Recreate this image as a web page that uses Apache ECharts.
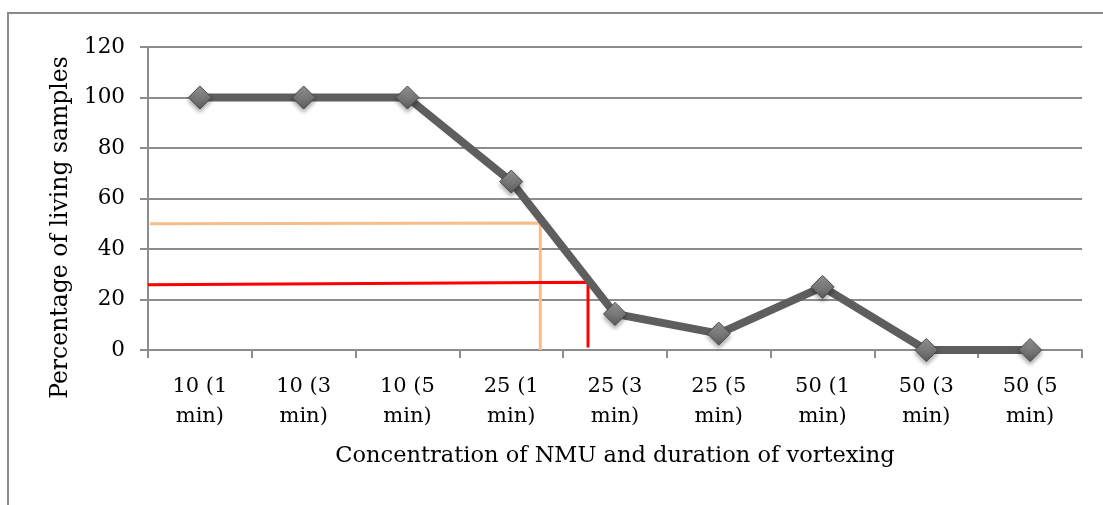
<!DOCTYPE html>
<html><head><meta charset="utf-8">
<script src="https://cdn.jsdelivr.net/npm/echarts@6/dist/echarts.min.js"></script>
<style>html,body{margin:0;padding:0;background:#fff}#c{width:1103px;height:505px}
#frame{position:absolute;left:7px;top:12px;width:1100px;height:500px;border-left:2px solid #8a8a8a;border-top:2px solid #8a8a8a;pointer-events:none}</style>
</head><body><div id="c"></div><div id="frame"></div>
<script>
const categories = ['10 (1 min)','10 (3 min)','10 (5 min)','25 (1 min)','25 (3 min)','25 (5 min)','50 (1 min)','50 (3 min)','50 (5 min)'];
const livingPct = [100, 100, 100, 66.7, 14.3, 6.5, 25, 0, 0];
const yTicks = [0, 20, 40, 60, 80, 100, 120];
// annotation guide lines (x in category-index units, y in %)
const orangeGuide = [[-0.48, 50], [3.28, 50.3], [3.28, 0]];
const redGuide = [[-0.5, 25.8], [3.74, 26.8], [3.74, 1]];

const FONT = 'DejaVu Serif';
const chart = echarts.init(document.getElementById('c'));
chart.setOption({
  animation: false,
  grid: { left: 148, top: 47, right: 21, bottom: 155 },
  xAxis: [{
    type: 'category', data: categories, boundaryGap: true,
    axisLine: { onZero: false, lineStyle: { color: '#8c8c8c', width: 2 } },
    axisTick: { show: true, length: 8, lineStyle: { color: '#8c8c8c', width: 2 } },
    axisLabel: { color: '#000', fontFamily: FONT, fontSize: 21, lineHeight: 30, margin: 22,
      formatter: v => v.replace(' min', '\nmin') },
    name: 'Concentration of NMU and duration of vortexing', nameLocation: 'middle', nameGap: 95,
    nameTextStyle: { color: '#000', fontFamily: FONT, fontSize: 22.5 }
  }, {
    type: 'value', min: -0.5, max: 8.5, show: false
  }],
  yAxis: {
    type: 'value', min: 0, max: 120, interval: 20,
    axisLine: { show: true, onZero: false, lineStyle: { color: '#8c8c8c', width: 2 } },
    axisTick: { show: true, length: 8, lineStyle: { color: '#8c8c8c', width: 2 } },
    splitLine: { show: true, lineStyle: { color: '#8c8c8c', width: 2 } },
    axisLabel: { color: '#000', fontFamily: FONT, fontSize: 21.5, margin: 23,
      formatter: v => yTicks.includes(v) ? String(v) : '' },
    name: 'Percentage of living samples', nameLocation: 'middle', nameGap: 75,
    nameTextStyle: { color: '#000', fontFamily: FONT, fontSize: 23.5, padding: [0, 58, 0, 0] }
  },
  series: [{
    type: 'line', xAxisIndex: 1, data: orangeGuide, symbol: 'none', z: 1,
    lineStyle: { color: '#f7bd8a', width: 3 }
  }, {
    type: 'line', xAxisIndex: 1, data: redGuide, symbol: 'none', z: 1,
    lineStyle: { color: '#ff0000', width: 3 }
  }, {
    type: 'line', data: livingPct, z: 3,
    lineStyle: { color: '#5e5e5e', width: 8 },
    symbol: 'diamond', symbolSize: 23,
    itemStyle: {
      color: new echarts.graphic.LinearGradient(0, 0, 0, 1, [
        { offset: 0, color: '#9a9a9a' }, { offset: 1, color: '#5a5a5a' }]),
      borderColor: '#4a4a4a', borderWidth: 1,
      shadowColor: 'rgba(0,0,0,0.35)', shadowBlur: 4, shadowOffsetY: 3
    }
  }]
});
</script></body></html>
